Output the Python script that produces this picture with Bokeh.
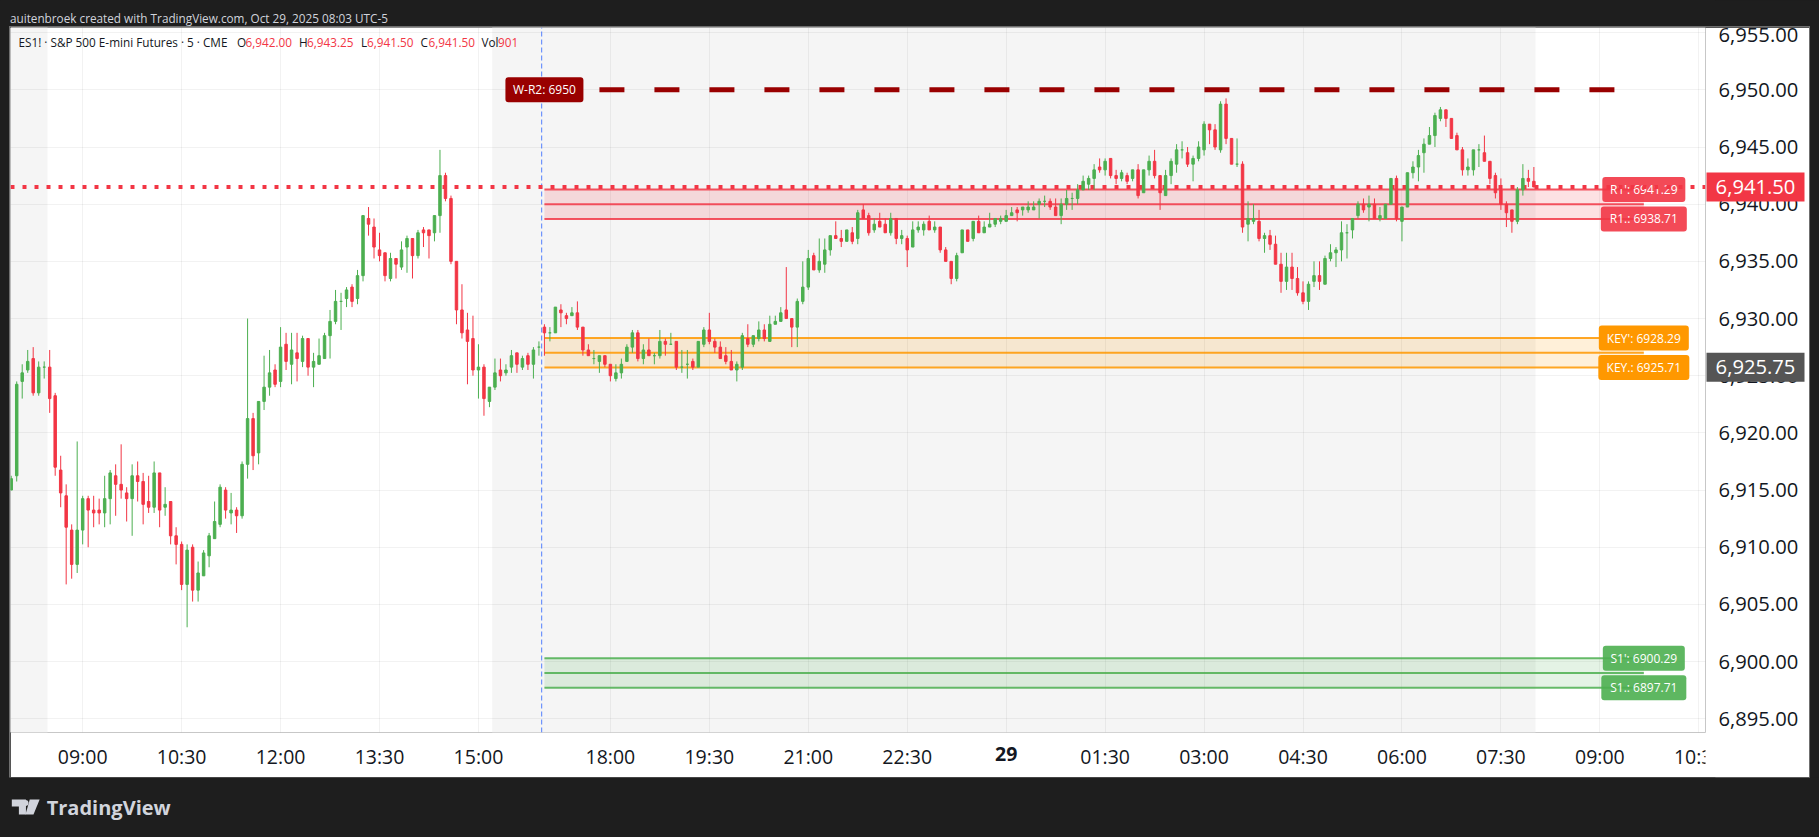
from bokeh.plotting import figure
from bokeh.layouts import column
from bokeh.models import ColumnDataSource, FixedTicker, Label
from bokeh.embed import file_html
from bokeh.resources import INLINE
from bokeh.core.properties import value

FONT = "Open Sans"
DARK = "#1e1e1e"
RED = "#f23645"
GREEN = "#4caf50"
ORANGE = "#ff9800"
DARKRED = "#990000"

# bar index 0 is the 09:00 bar of Oct 28, 5-minute bars
first_bar = -13
opens = [
6915,6916.25,6924.5,6925.5,6926.5,6923.5,6925.75,6925.75,6923.25,6916.75,
6914.5,6911.5,6908.5,6911.5,6914.25,6913.25,6913.25,6913,6914.25,6916.25,
6915.5,6914.75,6914.25,6916.25,6915.75,6914,6913.5,6916.5,6913.5,6914,
6911,6910.25,6906.75,6910,6906.25,6907.5,6909.25,6910.75,6912,6915,
6913,6913.25,6912.75,6917.25,6921.25,6918.25,6922.75,6924,6925.5,6924.5,
6927.75,6926,6927,6926.25,6928.25,6925.75,6926,6926.5,6928.5,6929.75,
6931.5,6931.75,6932.75,6931.75,6933.75,6938.75,6938,6936,6935.75,6933.5,
6935.25,6934.5,6936.25,6937,6935.5,6937.75,6937.75,6937.5,6939,6942.5,
6940.5,6935,6930.75,6929,6928.25,6925.5,6925.75,6922.75,6924,6925.5,
6925.25,6925.75,6927,6925.75,6926.75,6926,6927.5,6929.25,6928.75,6928.75,
6930.75,6930.25,6930.25,6930.5,6929.25,6927.25,6926.5,6926.25,6926.75,6926,
6924.75,6925.25,6926.25,6927.5,6928.75,6926.5,6927.25,6926.75,6926.75,6928,
6927.75,6928,6925.75,6926,6926.25,6925.75,6927.75,6929,6928,6927.5,
6926.75,6926.25,6925.5,6925.75,6928.25,6927.75,6928.25,6929,6928,6929.5,
6929.75,6930.75,6930,6929.25,6931.5,6932.75,6935.5,6934.25,6934.75,6936,
6937.25,6937,6936.75,6937.5,6937,6939.5,6939,6937.75,6938.5,6938.25,
6937.5,6938.75,6937,6937,6936.25,6937.75,6937.75,6938.5,6937.75,6938,
6936,6935,6933.5,6935.75,6937.75,6937,6938.5,6937.5,6938,6938.25,
6938.5,6938.5,6939,6939.5,6939.5,6939.5,6939.5,6940,6940.25,6940.25,
6939.75,6939,6940,6940.5,6940.5,6941.25,6941.75,6942.25,6943.25,6943,
6944,6942.5,6942.25,6942.5,6942.25,6943,6941,6943,6943.75,6942.5,
6940.75,6942.5,6943.5,6944.75,6944.5,6943.5,6944,6944.75,6947,6946.5,
6944.75,6948.75,6945.75,6943.5,6943.5,6938.25,6938.5,6938.5,6937,6937.25,
6936.5,6934.75,6933.25,6934.5,6933.5,6932.25,6931.5,6933.25,6933.75,6933,
6935.25,6935.75,6936,6937.5,6937.75,6939,6940,6939.75,6940,6938.75,
6938.75,6940,6942.25,6938.5,6939.75,6942.75,6943.25,6944.5,6945.25,6946,
6947.5,6948.25,6947.5,6946,6944.75,6943,6943,6944.75,6944.5,6943.75,
6942.5,6941.25,6940,6939.5,6938.5,6941.25,6942.25,6942]
highs = [
6916.25,6924.5,6926,6927.25,6927.5,6926.25,6926.25,6927.25,6923.5,6918,
6915.5,6912,6919.25,6914.5,6914.5,6914.5,6914.25,6916.25,6916.75,6917.25,
6919,6915.25,6917.25,6917.5,6916.5,6916.25,6917.5,6916.5,6915.25,6914,
6911.75,6910.5,6910.25,6910.25,6908.75,6909.75,6911.25,6914,6915.5,6915.25,
6914.75,6913.5,6917.5,6930,6921.75,6922.75,6926.75,6927.25,6926,6929.25,
6928.75,6928.75,6928.75,6928.5,6928.25,6927,6928.25,6928.75,6930.75,6932.5,
6932.25,6932.75,6933,6934.25,6939,6939.75,6938.75,6937.5,6935.75,6935.75,
6935.25,6936.75,6937.25,6937,6937.75,6938,6937.75,6939,6944.75,6942.75,
6940.75,6935,6933,6930.5,6930.25,6927.75,6926,6924,6926.5,6926.5,
6926,6927.25,6927,6926.75,6927,6927.5,6928,6929.5,6929.25,6931,
6931.25,6930.5,6931,6931.5,6929.25,6927.75,6927.25,6926.75,6926.75,6926,
6926,6926.5,6927.75,6929,6929,6927.75,6928.25,6927,6929,6928.25,
6928.75,6928,6927.25,6927.25,6926.5,6928,6929.25,6930.5,6928.25,6928,
6927.5,6927.25,6926.25,6928.75,6929.5,6928.5,6929.75,6929.5,6930.25,6930.25,
6931,6934.5,6930,6931.75,6935,6936,6935.75,6937,6937,6937.25,
6938.5,6937.75,6937.75,6938,6939.5,6940,6939.25,6938.75,6939.25,6938.75,
6939.25,6938.75,6937.75,6937.25,6938.5,6938.5,6938.5,6939,6938.5,6938,
6936.25,6935,6935.75,6937.75,6937.75,6938.5,6939,6938.5,6939.25,6938.75,
6939,6939.5,6939.75,6939.75,6939.75,6940.25,6940.25,6940.5,6940.75,6940.5,
6940.5,6940.5,6941.25,6941,6941.75,6942.5,6942.5,6943.5,6944,6944,
6944,6943,6943,6942.75,6943,6943.5,6943,6944.25,6944.75,6942.5,
6943,6944,6945.25,6945.5,6945,6944.25,6945.5,6947.25,6947,6947,
6949,6949.25,6945.75,6945.75,6943.75,6940.25,6940,6939.5,6937.5,6937.75,
6937.25,6935.75,6935.75,6935.75,6934.5,6933.25,6933.25,6935,6935,6935.5,
6936.5,6936.25,6938.5,6938.25,6938.75,6940.25,6940.5,6940.75,6940.5,6939.75,
6940,6942.25,6942.5,6939.75,6942.75,6943.75,6944.75,6945.75,6946.75,6948,
6948.5,6948.25,6947.5,6946.25,6945,6944,6944.75,6945.25,6946,6943.75,
6942.75,6942.25,6940.25,6939.5,6941.5,6943.5,6943,6943.25]
lows = [
6915,6915.75,6923,6925.25,6923.25,6923.25,6924.75,6921.75,6916.25,6913.5,
6906.75,6907.25,6907.75,6910.25,6910,6911.75,6912,6911.75,6912,6912.75,
6914.25,6912.25,6911,6914,6912,6913,6913,6911.75,6912.75,6910.25,
6908.5,6906.25,6903,6905.25,6905.25,6907.5,6908.25,6910.75,6911.75,6912.5,
6912,6911.25,6912.5,6916,6916.75,6917.25,6922,6923.25,6924,6924,
6925.5,6924.25,6924.5,6925.75,6925,6924,6926,6926.5,6926.5,6929.5,
6929,6931,6931,6931.25,6933.25,6937.25,6935.25,6935,6933.25,6933.25,
6933.5,6934.25,6934,6933.5,6935.25,6936.25,6935.25,6936.75,6937.5,6940.25,
6934.75,6929.5,6928.25,6924.25,6925,6923,6921.5,6922.25,6923.75,6924.5,
6925,6925.25,6925.25,6925.5,6925.5,6924.75,6926.75,6926.75,6928,6928.75,
6929.25,6929.5,6930.25,6929,6926.75,6926.75,6926,6925.25,6925.75,6924.5,
6924.5,6924.75,6926.25,6927,6926.25,6926,6926.75,6926,6926.5,6926.75,
6927.75,6925.5,6925.25,6924.75,6925.5,6925.75,6927.5,6927.75,6927,6926.5,
6926,6925.5,6924.5,6925.5,6927.5,6927.5,6928,6928,6928,6929.5,
6929.75,6930,6927.5,6927.5,6931.25,6932.5,6934.25,6934,6934,6935.5,
6937,6936.25,6936.75,6936.5,6936.5,6938.75,6937.25,6937.5,6938,6937.5,
6937.25,6936.5,6936.5,6934.5,6936.25,6937.5,6937.25,6937.75,6937.5,6935.75,
6935,6933,6933.25,6935.75,6936.75,6936.75,6937.5,6937.5,6938,6938,
6938.25,6938.5,6939,6938.5,6939,6939.25,6939.5,6938.75,6939.75,6939.5,
6939,6938.25,6939.5,6939.5,6940,6941.25,6941.25,6941.25,6942.75,6942.5,
6942.25,6941.75,6942,6941.75,6942,6940.5,6941,6942.5,6942.25,6939.5,
6940.75,6941.75,6942.75,6944,6943.25,6942,6943.75,6944.25,6945.25,6944.75,
6944.5,6945.25,6943.5,6943.25,6937.5,6936.75,6938.25,6936.75,6935.75,6936,
6934.75,6932.25,6932.5,6932.5,6932,6931.25,6930.75,6932.75,6932.5,6933,
6935,6934.5,6935,6935.25,6937,6938.75,6939.25,6938.5,6938.75,6938.5,
6938.75,6940,6938.5,6936.75,6939.75,6942.25,6942,6942.75,6945.25,6945,
6947.25,6946.75,6945.75,6944.75,6942.5,6942.5,6942.5,6943.25,6943.75,6941.75,
6940.5,6939.5,6938,6937.5,6938.25,6940.75,6941.5,6941.5]
closes = [
6916,6924.25,6925.25,6926.25,6923.5,6925.75,6925.75,6923,6917,6914.75,
6911.75,6908.5,6911.5,6914.25,6913.25,6913,6913,6914.25,6916.5,6915.5,
6915,6914.25,6916.25,6915.75,6913.75,6913.5,6916.5,6913.25,6913.75,6911,
6910.25,6906.75,6909.75,6906.25,6907.75,6909.5,6911,6912.25,6915.25,6913.25,
6913.25,6912.75,6917.25,6921.25,6918,6922.75,6924,6925.25,6924.25,6927.5,
6926.25,6927.25,6926.5,6928.25,6925.75,6926.25,6926.75,6928.5,6929.75,6931.5,
6931.5,6932.5,6931.5,6933.75,6939,6938.25,6936.25,6935.5,6933.75,6935.25,
6934.75,6936,6937,6935.5,6937.5,6937.5,6937.25,6939,6942.5,6940.5,
6935,6930.75,6928.75,6928,6925.5,6925.75,6923,6924,6925.25,6925,
6925.5,6926.75,6926,6926.5,6926,6927.25,6927.5,6928.75,6928.75,6931,
6930.5,6930,6930.5,6929.25,6927.25,6926.75,6926.5,6926.75,6926,6925,
6925.25,6926,6927.5,6928.75,6926.5,6927.25,6926.75,6926.75,6928,6927.75,
6927.75,6925.75,6925.75,6926,6925.75,6928,6929,6928,6927.5,6926.5,
6926.25,6925.5,6926,6928.5,6927.75,6928.5,6929,6928.25,6929.5,6929.75,
6930.5,6930,6929.25,6931.5,6932.75,6935.25,6934.25,6935,6936,6937.25,
6937,6936.75,6937.75,6936.75,6939.25,6938.75,6937.5,6938.25,6938,6937.5,
6938.75,6937,6937.25,6936,6937.75,6938,6938.25,6937.75,6938,6936,
6935,6933.5,6935.5,6937.75,6936.75,6938.5,6937.5,6938,6938.25,6938.75,
6938.75,6939,6939.25,6939.25,6939.75,6939.75,6939.75,6940.25,6940.25,6939.75,
6939,6940,6940.5,6940.5,6941.25,6942,6942.25,6943,6943,6943.75,
6942.5,6942.25,6942.75,6942,6943,6940.75,6943,6943.75,6942.5,6941,
6942.5,6943.75,6944.75,6944.75,6943.5,6944,6945,6947,6946.5,6945,
6948.75,6945.75,6943.5,6943.5,6938,6938.75,6938.75,6937,6937.25,6936.5,
6934.75,6933.25,6934.5,6933.5,6932.25,6931.5,6933,6933.75,6933.25,6935.25,
6935.75,6936,6937.5,6937.5,6938.75,6940,6939.5,6940,6938.75,6939,
6940,6942.25,6938.75,6939.75,6942.75,6943.25,6944.25,6945.25,6946,6947.75,
6948.25,6947.5,6945.75,6944.75,6943,6943.25,6944.75,6944.75,6943.75,6942.25,
6941,6940,6939.25,6938.5,6941.25,6942.25,6942,6941.5]

time_ticks = [0, 18, 36, 54, 72, 96, 114, 132, 150, 168, 186, 204, 222, 240, 258, 276, 294]
time_labels = ["09:00", "10:30", "12:00", "13:30", "15:00", "18:00", "19:30", "21:00", "22:30", "",
               "01:30", "03:00", "04:30", "06:00", "07:30", "09:00", "10:30"]
price_ticks = [6895, 6900, 6905, 6910, 6915, 6920, 6925, 6930, 6935, 6940, 6945, 6950, 6955]

session_starts = [-13.2, 74.5]
session_ends = [-6.4, 264.3]
zone_start = 84
zone_end = 284
zones = [
    (6941.29, 6940.0, 6938.71, RED, "R1': 6941.29", "R1.: 6938.71"),
    (6928.29, 6927.0, 6925.71, ORANGE, "KEY': 6928.29", "KEY.: 6925.71"),
    (6900.29, 6899.0, 6897.71, GREEN, "S1': 6900.29", "S1.: 6897.71"),
]
weekly_r2 = 6950
last_price = 6941.5
prev_price = 6925.75

x_start, x_end = -13.13, 295.22
y_start, y_end = 6893.8, 6955.45
FRAME_W, FRAME_H, RIGHT, BOTTOM = 1695, 705, 104, 45
bar_px = FRAME_W / (x_end - x_start)
price_px = FRAME_H / (y_end - y_start)

p = figure(width=1799, height=750, x_range=(x_start, x_end), y_range=(y_start, y_end),
           y_axis_location="right", toolbar_location=None, output_backend="svg",
           min_border_left=0, min_border_right=RIGHT, min_border_top=0, min_border_bottom=BOTTOM,
           background_fill_color="white", border_fill_color="white",
           outline_line_color=None, margin=(0, 0, 0, 10))
p.styles = {"outline": "1px solid #6f6f6f"}

# session shading
p.quad(left=session_starts, right=session_ends, bottom=y_start, top=y_end,
       fill_color="#f5f5f5", line_color=None, level="underlay")

# grid
p.xgrid.ticker = FixedTicker(ticks=time_ticks)
p.ygrid.ticker = FixedTicker(ticks=price_ticks)
for g in (p.xgrid, p.ygrid):
    g.grid_line_color = "black"
    g.grid_line_alpha = 0.05
    g.grid_line_width = 1

# axes
p.xaxis.ticker = FixedTicker(ticks=time_ticks)
p.xaxis.major_label_overrides = dict(zip(time_ticks, time_labels))
p.yaxis.ticker = FixedTicker(ticks=price_ticks)
p.yaxis.major_label_overrides = {t: f"{t:,.2f}" for t in price_ticks}
for ax in (p.xaxis, p.yaxis):
    ax.axis_line_color = None
    ax.major_tick_line_color = None
    ax.minor_tick_line_color = None
    ax.major_tick_in = 0
    ax.major_tick_out = 0
    ax.minor_tick_out = 0
    ax.major_label_text_font = FONT
    ax.major_label_text_color = "#131722"
p.xaxis.major_label_text_font_size = "19.5px"
p.yaxis.major_label_text_font_size = "20.2px"
p.xaxis.major_label_standoff = 10
p.yaxis.major_label_standoff = 13

# zones
for top, mid, bot, col, _, _ in zones:
    p.quad(left=[zone_start], right=[zone_end], bottom=[bot], top=[top],
           fill_color=col, fill_alpha=0.15, line_color=None)
    for lvl in (top, mid, bot):
        p.line(x=[zone_start, zone_end], y=[lvl, lvl], line_color=col, line_alpha=0.85, line_width=2)

# session divider
p.line(x=[83.5, 83.5], y=[y_start, y_end], line_color="#2962ff", line_alpha=0.8, line_width=1, line_dash="5 3")

# weekly level
p.line(x=[zone_start, zone_end], y=[weekly_r2, weekly_r2], line_color=DARKRED, line_width=5, line_dash="25 30")


def tag(x, y, txt, col, w, alpha=1.0):
    p.rect(x=[x], y=[y], width=w, height=25, width_units="screen", height_units="screen",
           fill_color=col, fill_alpha=alpha, line_color=None, border_radius=3)
    p.text(x=[x], y=[y], text=[txt], text_color="white", text_font=value(FONT), text_font_size="12px",
           text_align="center", text_baseline="middle")


tag(zone_start, weekly_r2, "W-R2: 6950", DARKRED, 78)
tag(zone_end, zones[0][0], zones[0][4], RED, 83, 0.9)
tag(zone_end, zones[0][2], zones[0][5], RED, 86, 0.9)
tag(zone_end, zones[1][0], zones[1][4], ORANGE, 90)
tag(zone_end, zones[1][2], zones[1][5], ORANGE, 91)
tag(zone_end, zones[2][0], zones[2][4], GREEN, 82, 0.9)
tag(zone_end, zones[2][2], zones[2][5], GREEN, 85, 0.9)

# last price dotted line
p.line(x=[x_start, x_end], y=[last_price, last_price], line_color=RED, line_width=4, line_dash="4 8")

# candles
n = len(opens)
xs = [first_bar + k for k in range(n)]
cols = [GREEN if closes[k] >= opens[k] else RED for k in range(n)]
src = ColumnDataSource(dict(x=xs, o=opens, h=highs, l=lows, c=closes, col=cols,
                            t=[max(a, b) for a, b in zip(opens, closes)],
                            b=[min(a, b) for a, b in zip(opens, closes)]))
p.segment(x0="x", x1="x", y0="l", y1="h", line_color="col", line_width=1, source=src)
p.vbar(x="x", width=0.45, top="t", bottom="b", fill_color="col", line_color="col", line_width=1, source=src)

# legend row
legend_y = 6954.14
legend_parts = [
    (8, "ES1! · S&P 500 E-mini Futures · 5 · CME", "#131722"),
    (226.5, "O", "#131722"), (235, "6,942.00", RED),
    (288.5, "H", "#131722"), (296.5, "6,943.25", RED),
    (350.5, "L", "#131722"), (356.5, "6,941.50", RED),
    (410, "C", "#131722"), (418, "6,941.50", RED),
    (471, "Vol", "#131722"), (487.5, "901", RED),
]
for lx, txt, col in legend_parts:
    p.add_layout(Label(x=lx, y=legend_y, x_units="screen", text=txt, text_color=col, text_font=FONT,
                       text_font_size="11.75px", text_baseline="middle"))

# transparent figure over the chart: same scales, but its frame also covers the axis strips.
# It is a root of its own, so that the layout does not align its frame with the chart's.
x_end_all = x_end + RIGHT / bar_px
y_start_all = y_start - BOTTOM / price_px
top_layer = figure(width=1799, height=750, x_range=(x_start, x_end_all), y_range=(y_start_all, y_end),
                   x_axis_type=None, y_axis_type=None, toolbar_location=None, output_backend="svg",
                   min_border=0, outline_line_color=None, background_fill_color=None, border_fill_color=None,
                   margin=0)
top_layer.styles = {"position": "absolute", "left": "10px", "top": "27px"}
top_layer.grid.visible = False

# the last time label is cut by the price scale
top_layer.quad(left=[x_end], right=[x_end + 30 / bar_px], top=[y_start - 1 / price_px], bottom=[y_start_all],
               fill_color="white", line_color=None)
# the day label is bold
top_layer.text(x=[168], y=[y_start - 21 / price_px], text=["29"], text_color="#131722", text_font=value(FONT),
               text_font_size="19.5px", text_font_style="bold", text_align="center", text_baseline="middle")
# price tags on the axis
tag_x = x_end + 50 / bar_px
for price, col in ((last_price, RED), (prev_price, "#555555")):
    top_layer.rect(x=[tag_x], y=[price], width=98, height=29, width_units="screen", height_units="screen",
                   fill_color=col, line_color=None)
    top_layer.text(x=[tag_x], y=[price], text=[f"{price:,.2f}"], text_color="white", text_font=value(FONT),
                   text_font_size="20.2px", text_align="center", text_baseline="middle")

# header and footer strips
head = figure(width=1819, height=27, x_range=(0, 1819), y_range=(27, 0), x_axis_type=None, y_axis_type=None,
              toolbar_location=None, output_backend="svg", min_border=0, outline_line_color=None,
              background_fill_color=DARK, border_fill_color=DARK)
head.grid.visible = False
head.text(x=[10], y=[17], text=["auitenbroek created with TradingView.com, Oct 29, 2025 08:03 UTC-5"],
          text_color="#d1d4dc", text_font=value(FONT), text_font_size="11.75px", text_baseline="middle")

foot = figure(width=1819, height=60, x_range=(0, 1819), y_range=(837, 777), x_axis_type=None, y_axis_type=None,
              toolbar_location=None, output_backend="svg", min_border=0, outline_line_color=None,
              background_fill_color=DARK, border_fill_color=DARK)
foot.grid.visible = False
foot.patches(xs=[[12, 27, 27, 19.5, 19.5, 12], [31, 41.5, 35, 26.5]],
             ys=[[799, 799, 814, 814, 806, 806], [799, 799, 814, 814]],
             fill_color="#d1d4dc", line_color=None)
foot.circle(x=[26.5], y=[802.5], radius=3.2, fill_color="#d1d4dc", line_color=None)
foot.text(x=[49], y=[807], text=["TradingView"], text_color="#d1d4dc", text_font=value(FONT),
          text_font_size="20px", text_font_style="bold", text_baseline="middle")

page = column(head, p, foot, spacing=0)
html = file_html([page, top_layer], INLINE)
html = html.replace("<head>", "<head><style>html,body{background:#1e1e1e;}</style>", 1)
open("out.html", "w").write(html)
